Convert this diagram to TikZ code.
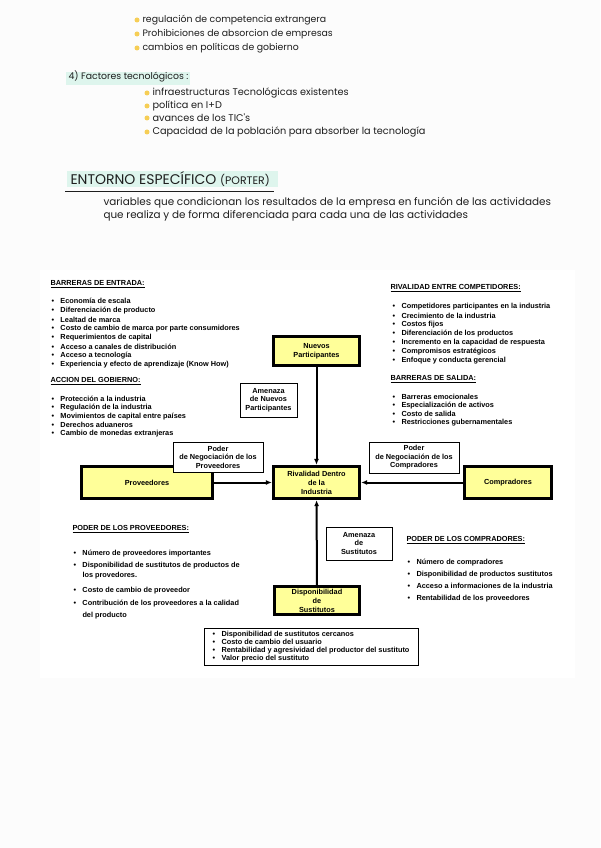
\documentclass[tikz,border=0pt]{standalone}
\usepackage{fontspec}
\setmainfont{Liberation Sans}
\newfontfamily\handfont{Poppins}
\usetikzlibrary{arrows.meta}

\definecolor{boxyellow}{RGB}{255,255,153}
\definecolor{dotyellow}{RGB}{246,206,86}
\definecolor{mint}{RGB}{222,245,237}
\definecolor{ink}{RGB}{30,30,30}
\definecolor{pagegray}{RGB}{252,252,252}

\newcommand{\diagfont}{\fontsize{5.5}{6.4}\selectfont\bfseries}
\newcommand{\blt}{\makebox[6.75pt][l]{\textbullet}}

\tikzset{every picture/.style={line width=0.75pt}}
\tikzset{
	forcebox/.style={draw, line width=2.3pt, fill=boxyellow, align=center, inner sep=1pt,
		font={\fontsize{5.5}{6.75}\selectfont\bfseries}},
	notebox/.style={draw, line width=0.6pt, fill=white, align=center, inner sep=1pt, font=\diagfont},
	listitem/.style={anchor=west, inner sep=0pt, font=\diagfont},
	handtext/.style={anchor=west, inner sep=0pt, text=ink, font={\handfont\fontsize{7}{9}\selectfont}},
	force/.style={line width=1.5pt, -{Latex[length=4.5pt,width=3.6pt]}}
}

\begin{document}
\begin{tikzpicture}[x=0.75pt,y=0.75pt,yscale=-1,xscale=1]
	\useasboundingbox (0,0) rectangle (600,848);
	\fill[pagegray] (0,0) rectangle (600,848);

	% Handwritten notes
	\foreach \y/\t [count=\i] in {20/regulación de competencia extrangera, 34/Prohibiciones de absorcion de empresas, 48/cambios en políticas de gobierno}{
		\fill[dotyellow] (137,\y) circle (2.5);
		\node[handtext] (pol\i) at (142,\y) {\t};
	}
	\fill[mint] (66,72) rectangle (190,85);
	\node[handtext] (tecno) at (68,76) {4) Factores tecnológicos :};
	\foreach \y/\t [count=\i] in {93/infraestructuras Tecnológicas existentes, 106/política en I+D, 118/avances de los TIC's, 132/Capacidad de la población para absorber la tecnología}{
		\fill[dotyellow] (147,\y) circle (2.5);
		\node[handtext, font={\handfont\fontsize{7.3}{9}\selectfont}] (tec\i) at (152,\y) {\t};
	}

	% Title
	\fill[mint] (67,171) rectangle (278,187);
	\node[handtext, font={\handfont\fontsize{10.5}{12}\selectfont}] (titulo) at (70,179) {ENTORNO ESPECÍFICO {\fontsize{8.2}{9}\selectfont (PORTER)}};
	\draw[ink, line width=0.6pt] (65,191) -- (274,191);
	\node[handtext, font={\handfont\fontsize{7.8}{9}\selectfont}] (def1) at (103,203) {variables que condicionan los resultados de la empresa en función de las actividades};
	\node[handtext, font={\handfont\fontsize{7.8}{9}\selectfont}] (def2) at (103,216) {que realiza y de forma diferenciada para cada una de las actividades};

	% Diagram sheet
	\fill[white] (40,270) rectangle (575,678);

	% Forces
	\node[forcebox, minimum width=64.5pt, minimum height=21.75pt] (nuevos) at (316.5,351) {Nuevos\\Participantes};
	\node[forcebox, minimum width=64.5pt, minimum height=24pt] (rival) at (316.5,482.5) {Rivalidad Dentro\\de la\\Industria};
	\node[forcebox, minimum width=98.25pt, minimum height=24pt] (prov) at (147,482.5) {Proveedores};
	\node[forcebox, minimum width=65.25pt, minimum height=24pt] (comp) at (508,482.5) {Compradores};
	\node[forcebox, minimum width=63.75pt, minimum height=21pt] (sust) at (317,600.5) {Disponibilidad\\de\\Sustitutos};

	% Labels
	\node[notebox, minimum width=42.75pt, minimum height=25.5pt] (amnuevos) at (268.5,400) {Amenaza\\de Nuevos\\Participantes};
	\node[notebox, minimum width=67.5pt, minimum height=22.5pt] (podprov) at (218,457) {Poder\\de Negociación de los\\Proveedores};
	\node[notebox, minimum width=67.5pt, minimum height=23.25pt] (podcomp) at (414,457.5) {Poder\\de Negociación de los\\Compradores};
	\node[notebox, minimum width=49.5pt, minimum height=24.75pt] (amsust) at (359,543.5) {Amenaza\\de\\Sustitutos};

	% Arrows
	\draw[force] (nuevos) -- (rival);
	\draw[force] (prov) -- (rival);
	\draw[force] (comp) -- (rival);
	\draw[force] (sust) -- (rival);

	% Barreras de entrada
	\node[listitem] (hbe) at (50,284) {\underline{BARRERAS DE ENTRADA:}};
	\foreach \t [count=\i] in {Economía de escala, Diferenciación de producto, Lealtad de marca, Costo de cambio de marca por parte consumidores, Requerimientos de capital, Acceso a canales de distribución, Acceso a tecnología, Experiencia y efecto de aprendizaje (Know How)}
		\node[listitem] (be\i) at (51,292.2+9.1*\i) {\blt\t};

	% Accion del gobierno
	\node[listitem] (hag) at (50,381) {\underline{ACCION DEL GOBIERNO:}};
	\foreach \t [count=\i] in {Protección a la industria, Regulación de la industria, Movimientos de capital entre países, Derechos aduaneros, Cambio de monedas extranjeras}
		\node[listitem] (ag\i) at (51,390.4+8.6*\i) {\blt\t};

	% Rivalidad entre competidores
	\node[listitem] (hrc) at (390,288) {\underline{RIVALIDAD ENTRE COMPETIDORES:}};
	\foreach \t [count=\i] in {Competidores participantes en la industria, Crecimiento de la industria, Costos fijos, Diferenciación de los productos, Incremento en la capacidad de respuesta, Compromisos estratégicos, Enfoque y conducta gerencial}
		\node[listitem] (rc\i) at (392,298.2+8.85*\i) {\blt\t};

	% Barreras de salida
	\node[listitem] (hbs) at (390,379) {\underline{BARRERAS DE SALIDA:}};
	\foreach \t [count=\i] in {Barreras emocionales, Especialización de activos, Costo de salida, Restricciones gubernamentales}
		\node[listitem] (bs\i) at (392,388.7+8.4*\i) {\blt\t};

	% Poder de los proveedores
	\node[listitem] (hpp) at (72,529) {\underline{PODER DE LOS PROVEEDORES:}};
	\node[listitem] (pp1) at (73,553.7) {\blt Número de proveedores importantes};
	\node[listitem] (pp2) at (73,566) {\blt Disponibilidad de sustitutos de productos de};
	\node[listitem] (pp3) at (73,575.7) {\hspace*{6.75pt}los provedores.};
	\node[listitem] (pp4) at (73,591) {\blt Costo de cambio de proveedor};
	\node[listitem] (pp5) at (73,603.7) {\blt Contribución de los proveedores a la calidad};
	\node[listitem] (pp6) at (73,616) {\hspace*{6.75pt}del producto};

	% Poder de los compradores
	\node[listitem] (hpc) at (406,540) {\underline{PODER DE LOS COMPRADORES:}};
	\foreach \t [count=\i] in {Número de compradores, Disponibilidad de productos sustitutos, Acceso a informaciones de la industria, Rentabilidad de los proveedores}
		\node[listitem] (pc\i) at (407,550.9+11.8*\i) {\blt\t};

	% Sustitutos
	\node[notebox, align=left, inner xsep=5pt, minimum width=160.5pt, minimum height=27.75pt,
		font={\fontsize{5.5}{6}\selectfont\bfseries}] (sustlist) at (311,646.5)
		{\blt Disponibilidad de sustitutos cercanos\\\blt Costo de cambio del usuario\\\blt Rentabilidad y agresividad del productor del sustituto\\\blt Valor precio del sustituto};

\end{tikzpicture}
\end{document}
